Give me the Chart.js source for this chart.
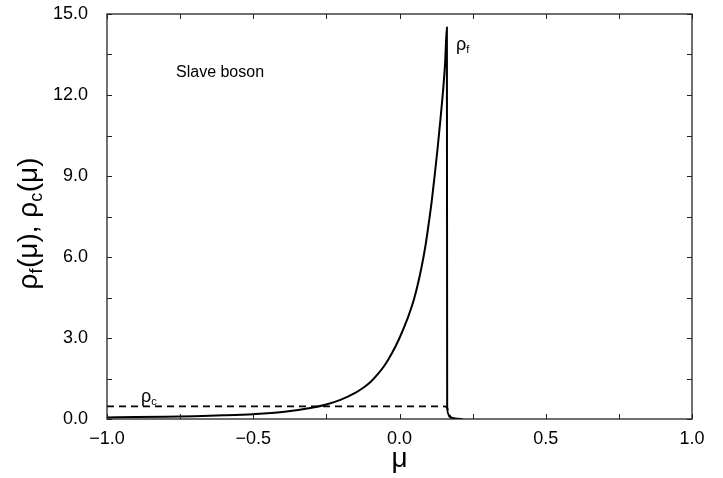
<!DOCTYPE html>
<html>
<head>
<meta charset="utf-8">
<script src="https://cdn.jsdelivr.net/npm/chart.js@4/dist/chart.umd.min.js"></script>
<style>
  html, body { margin: 0; padding: 0; background: #fff; }
  #wrap { width: 723px; height: 478px; }
</style>
</head>
<body>
<div id="wrap"><canvas id="c" width="723" height="478"></canvas></div>
<script>
// f-level spectral density rho_f(mu)
const muF = [-1.0, -0.9, -0.8, -0.7, -0.6, -0.5, -0.4, -0.3, -0.25, -0.2, -0.15, -0.125,
             -0.1, -0.075, -0.05, -0.025, 0.0, 0.025, 0.05, 0.075, 0.09, 0.1, 0.11, 0.12,
             0.13, 0.14, 0.15, 0.156, 0.162, 0.163, 0.166, 0.17, 0.18, 0.19, 0.2, 0.215];
const rhoF = [0.06, 0.07, 0.085, 0.105, 0.135, 0.18, 0.26, 0.42, 0.54, 0.72, 0.98, 1.15,
              1.36, 1.65, 2.0, 2.45, 3.0, 3.65, 4.45, 5.6, 6.5, 7.25, 8.05, 9.0,
              10.0, 11.1, 12.3, 13.2, 14.5, 0.5, 0.2, 0.1, 0.04, 0.02, 0.01, 0.0];

// conduction density rho_c(mu)
const muC = [-1.0, 0.15, 0.158, 0.163, 0.167, 0.172, 0.18, 0.19, 0.2, 0.215];
const rhoC = [0.47, 0.47, 0.46, 0.4, 0.28, 0.12, 0.04, 0.015, 0.005, 0.0];

const xRange = [-1.0, 1.0];
const yRange = [0.0, 15.0];
const xStep = 0.5, yStep = 3.0;
const xMinorStep = 0.25, yMinorStep = 1.5;

const FONT = '"Liberation Sans", Arial, sans-serif';

const toPts = (xs, ys) => xs.map((x, i) => ({ x: x, y: ys[i] }));
const fmt = v => v.toFixed(1).replace('-', '\u2212');

// pieces: [text, isSubscript]
function richWidth(ctx, pieces, size, ratio) {
  let w = 0;
  for (const [t, s] of pieces) {
    ctx.font = (s ? Math.round(size * ratio) : size) + 'px ' + FONT;
    w += ctx.measureText(t).width;
  }
  return w;
}
function richText(ctx, pieces, x, y, size, ratio) {
  let cx = x;
  for (const [t, s] of pieces) {
    ctx.font = (s ? Math.round(size * ratio) : size) + 'px ' + FONT;
    ctx.fillText(t, cx, s ? y + size * 0.18 : y);
    cx += ctx.measureText(t).width + (s ? 0.5 : 0);
  }
}

const framePlugin = {
  id: 'frame',
  afterDraw(chart) {
    const ctx = chart.ctx;
    const a = chart.chartArea;
    const xs = chart.scales.x, ys = chart.scales.y;
    ctx.save();
    ctx.strokeStyle = '#222';
    ctx.lineWidth = 1.3;
    ctx.strokeRect(a.left, a.top, a.right - a.left, a.bottom - a.top);

    // inward tick marks on all four sides
    ctx.lineWidth = 1;
    const tl = 5;
    ctx.beginPath();
    for (let v = xs.min; v <= xs.max + 1e-9; v += xMinorStep) {
      const px = Math.round(xs.getPixelForValue(v)) + 0.5;
      ctx.moveTo(px, a.bottom); ctx.lineTo(px, a.bottom - tl);
      ctx.moveTo(px, a.top); ctx.lineTo(px, a.top + tl);
    }
    for (let v = ys.min; v <= ys.max + 1e-9; v += yMinorStep) {
      const py = Math.round(ys.getPixelForValue(v)) + 0.5;
      ctx.moveTo(a.left, py); ctx.lineTo(a.left + tl, py);
      ctx.moveTo(a.right, py); ctx.lineTo(a.right - tl, py);
    }
    ctx.stroke();

    ctx.fillStyle = '#000';
    ctx.textAlign = 'left';
    ctx.textBaseline = 'alphabetic';

    // curve labels
    richText(ctx, [['\u03C1', false], ['f', true]], 456, 50, 18, 0.62);
    richText(ctx, [['\u03C1', false], ['c', true]], 141, 402, 18, 0.62);
    ctx.font = '16px ' + FONT;
    ctx.fillText('Slave boson', 176, 77);

    // x axis title
    ctx.font = '28px ' + FONT;
    ctx.textAlign = 'center';
    ctx.fillText('\u03BC', (a.left + a.right) / 2, 467);

    // y axis title, rotated
    const pieces = [['\u03C1', false], ['f', true], ['(\u03BC), \u03C1', false], ['c', true], ['(\u03BC)', false]];
    ctx.textAlign = 'left';
    const w = richWidth(ctx, pieces, 28, 0.64);
    ctx.translate(37, 224);
    ctx.rotate(-Math.PI / 2);
    richText(ctx, pieces, -w / 2, 0, 28, 0.64);
    ctx.restore();
  }
};

new Chart(document.getElementById('c'), {
  type: 'scatter',
  data: {
    datasets: [
      {
        label: 'rho_f',
        data: toPts(muF, rhoF),
        showLine: true,
        borderColor: '#000',
        borderWidth: 2,
        pointRadius: 0,
        cubicInterpolationMode: 'monotone',
        fill: false
      },
      {
        label: 'rho_c',
        data: toPts(muC, rhoC),
        showLine: true,
        borderColor: '#000',
        borderWidth: 1.8,
        borderDash: [7, 5],
        pointRadius: 0,
        cubicInterpolationMode: 'monotone',
        fill: false
      }
    ]
  },
  options: {
    responsive: false,
    animation: false,
    devicePixelRatio: 1,
    layout: { padding: { top: 14, right: 31, left: 0, bottom: 0 } },
    plugins: { legend: { display: false }, tooltip: { enabled: false } },
    scales: {
      x: {
        type: 'linear',
        min: xRange[0], max: xRange[1],
        grid: { display: false, drawTicks: false },
        border: { display: false },
        ticks: {
          stepSize: xStep,
          padding: 9,
          color: '#000',
          font: { family: FONT, size: 18 },
          callback: v => fmt(v)
        },
        afterFit: s => { s.height = 59; s.paddingLeft = 0; s.paddingRight = 0; }
      },
      y: {
        type: 'linear',
        min: yRange[0], max: yRange[1],
        grid: { display: false, drawTicks: false },
        border: { display: false },
        ticks: {
          stepSize: yStep,
          padding: 19,
          color: '#000',
          font: { family: FONT, size: 18 },
          callback: v => fmt(v)
        },
        afterFit: s => { s.width = 107; s.paddingTop = 0; s.paddingBottom = 0; }
      }
    }
  },
  plugins: [framePlugin]
});
</script>
</body>
</html>
